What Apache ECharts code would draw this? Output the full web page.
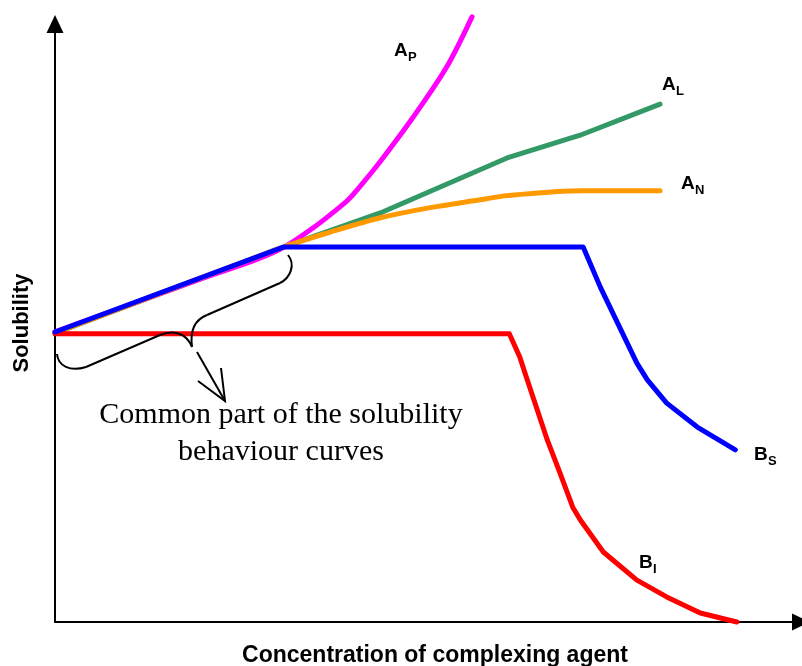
<!DOCTYPE html>
<html>
<head>
<meta charset="utf-8">
<script src="https://cdn.jsdelivr.net/npm/echarts@6/dist/echarts.min.js"></script>
<style>html,body{margin:0;padding:0;background:#fff}#c{width:802px;height:666px}</style>
</head>
<body>
<div id="c"></div>
<script>
// Solubility behaviour curves (arbitrary units, x: 0-100, y: 0-100)
const seriesNames = ['A_L', 'A_P', 'A_N', 'B_I', 'B_S'];
const curveAL = [[0,48.3],[30.6,62.7],[43.6,68.4],[60.6,77.6],[70.4,81.4],[81.1,86.6]];
const curveAP = [[0,48.5],[19.4,57.3],[26.8,60.5],[30.6,62.6],[34.6,65.9],[37.0,68.2],[39.3,70.6],[41.2,73.3],[43.6,77.0],[48.0,84.4],[52.5,92.8],[55.9,101.2]];
const curveAN = [[0,48.3],[30.6,62.7],[36.9,65.2],[43.6,67.6],[50.3,69.3],[57.0,70.6],[60.6,71.3],[70.8,72.1],[81.1,72.1]];
const curveBI = [[0,48.2],[60.9,48.2],[62.3,44.3],[63.3,40.5],[66.0,30.4],[67.7,24.9],[69.4,19.2],[70.4,17.1],[73.5,11.7],[78.0,7.0],[82.0,4.2],[86.5,1.5],[91.4,0]];
const curveBS = [[0,48.5],[30.6,62.7],[70.8,62.7],[73.1,56.0],[78.0,43.3],[79.4,40.5],[82.0,36.6],[86.1,32.6],[91.2,28.8]];
const xTitle = 'Concentration of complexing agent';
const yTitle = 'Solubility';
const noteText = 'Common part of the solubility\nbehaviour curves';

const colors = {A_L:'#339966', A_P:'#FF00FF', A_N:'#FF9900', B_I:'#FF0000', B_S:'#0000FF'};
const curves = {A_L:curveAL, A_P:curveAP, A_N:curveAN, B_I:curveBI, B_S:curveBS};

const chart = echarts.init(document.getElementById('c'), null, {renderer:'canvas'});

function lbl(main, sub, x, y) {
  return [
    {type:'text', x:x, y:y, z:100, style:{text:main, font:'bold 19px "Liberation Sans", Arial', fill:'#000', align:'left', verticalAlign:'middle'}},
    {type:'text', x:x+14, y:y+6, z:100, style:{text:sub, font:'bold 13px "Liberation Sans", Arial', fill:'#000', align:'left', verticalAlign:'middle'}}
  ];
}
const stroke = {stroke:'#000', lineWidth:2, fill:null};
function bz(x1,y1,c1x,c1y,c2x,c2y,x2,y2){
  return {type:'bezierCurve', z:100, shape:{x1:x1,y1:y1,cpx1:c1x,cpy1:c1y,cpx2:c2x,cpy2:c2y,x2:x2,y2:y2}, style:stroke};
}
function ln(x1,y1,x2,y2){
  return {type:'line', z:100, shape:{x1:x1,y1:y1,x2:x2,y2:y2}, style:stroke};
}

const axisCommon = {
  type:'value', min:0, max:100,
  axisLine:{show:true, onZero:false, symbol:['none','triangle'], symbolSize:[17,18], lineStyle:{color:'#000', width:2}},
  axisTick:{show:false}, axisLabel:{show:false}, splitLine:{show:false}
};

chart.setOption({
  animation:false,
  backgroundColor:'#fff',
  grid:{left:55, right:1, top:24, bottom:44, containLabel:false, outerBoundsMode:'none'},
  xAxis:Object.assign({}, axisCommon),
  yAxis:Object.assign({}, axisCommon),
  series: seriesNames.map(n => ({
    name:n, type:'line', data:curves[n], showSymbol:false, symbol:'none', clip:false,
    smooth: (n==='A_P'||n==='A_N') ? 0.3 : false,
    lineStyle:{color:colors[n], width:5, cap:'round', join:'round'}
  })),
  graphic: [].concat(
    lbl('A','P',394,51),
    lbl('A','L',662,85),
    lbl('A','N',681,184),
    lbl('B','S',754,455),
    lbl('B','I',639,563),
    [
      bz(57,354, 58,366, 70,372, 86,367),
      ln(86,367, 160,335),
      bz(160,335, 172,330, 186,332, 192,347),
      bz(192,347, 190,332, 194,320, 207,315),
      ln(207,315, 280,283),
      bz(280,283, 290,278, 296,265, 288,255),
      ln(197,352, 225,401),
      {type:'polyline', z:100, shape:{points:[[198,381],[225,401],[221,368]]}, style:stroke},
      {type:'text', x:281, y:434, z:100, style:{text:noteText, font:'30px "Liberation Serif", "Times New Roman"', lineHeight:37, fill:'#000', align:'center', verticalAlign:'middle'}},
      {type:'text', x:435, y:656, z:100, style:{text:xTitle, font:'bold 23px "Liberation Sans", Arial', fill:'#000', align:'center', verticalAlign:'middle'}},
      {type:'text', x:22, y:323, rotation:Math.PI/2, z:100, style:{text:yTitle, font:'bold 22px "Liberation Sans", Arial', fill:'#000', align:'center', verticalAlign:'middle'}}
    ]
  )
});
</script>
</body>
</html>
